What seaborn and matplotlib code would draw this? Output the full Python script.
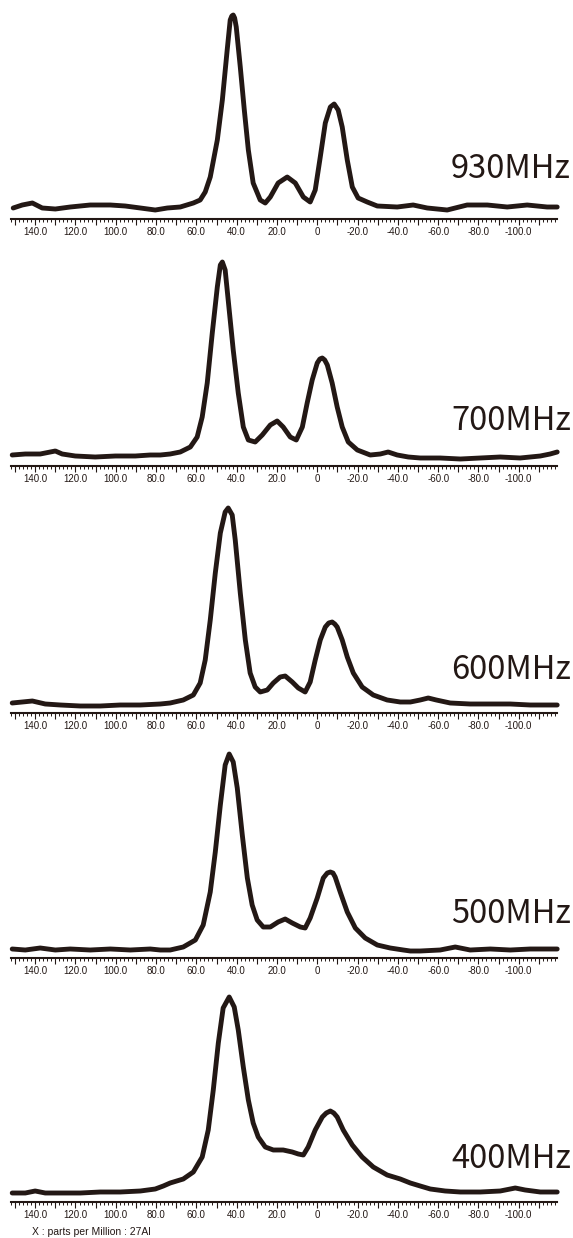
"""
27Al MAS NMR spectra at five field strengths, stacked.
"""

import pandas as pd
import matplotlib
matplotlib.use("Agg")
import matplotlib.pyplot as plt
import seaborn as sns
from matplotlib.ticker import MultipleLocator, FuncFormatter

# --- spectra (ppm, intensity a.u.) ---
FIELDS = ["930MHz", "700MHz", "600MHz", "500MHz", "400MHz"]

PPM_930 = [150.9, 146.4, 141.4, 136.5, 130.0, 122.6, 112.7, 102.7, 95.3, 87.8,
           80.4, 74.4, 68.0, 61.5, 58.1, 55.6, 53.1, 49.6, 47.1, 44.7,
           43.2, 42.4, 41.7, 41.0, 40.2, 38.2, 36.2, 34.2, 31.8, 28.3, 25.8, 23.3,
           19.4, 14.9, 10.9, 6.9, 3.5, 1.0, -1.5, -4.0, -6.5, -8.4,
           -10.4, -12.4, -14.9, -17.4, -20.3, -24.8, -29.8, -39.7, -47.6, -54.6,
           -64.5, -74.4, -84.4, -94.3, -104.2, -114.1, -119.1]
INT_930 = [11, 14, 16, 11, 10, 12, 14, 14, 13, 11,
           9, 11, 12, 16, 19, 27, 42, 79, 119, 169,
           199, 203, 204, 201, 192, 152, 109, 69, 36, 19, 16, 22,
           36, 42, 36, 22, 17, 29, 62, 96, 112, 115,
           109, 92, 59, 32, 21, 17, 13, 12, 14, 11,
           9, 14, 14, 12, 14, 12, 12]

PPM_700 = [151.4, 144.9, 137.5, 130.0, 126.6, 120.1, 110.2, 100.2, 90.3, 82.9,
           77.9, 73.0, 68.0, 63.0, 59.6, 57.1, 54.6, 52.1, 49.6, 48.1,
           47.1, 45.7, 44.2, 41.7, 39.2, 36.7, 34.2, 30.8, 27.3, 23.3,
           19.9, 16.9, 13.4, 10.4, 7.4, 5.0, 2.5, 0.0, -1.3, -2.5, -3.7, -5.0,
           -7.4, -9.9, -12.4, -15.4, -19.9, -26.3, -31.3, -35.2, -39.7, -45.2,
           -51.1, -61.0, -71.0, -80.9, -90.8, -100.7, -110.7, -115.6, -119.1]
INT_700 = [11, 12, 12, 15, 12, 10, 9, 10, 10, 11,
           11, 12, 14, 19, 29, 49, 83, 133, 179, 201,
           204, 196, 166, 116, 73, 39, 26, 24, 31, 41,
           45, 39, 29, 26, 39, 63, 86, 103, 107, 108, 106, 101,
           83, 59, 39, 24, 16, 11, 12, 14, 11, 9,
           8, 8, 7, 8, 9, 8, 10, 12, 14]

PPM_600 = [151.4, 146.4, 141.4, 135.0, 127.5, 117.6, 107.7, 97.8, 87.8, 77.9,
           73.0, 66.5, 61.5, 58.1, 55.6, 53.1, 50.6, 48.1, 45.7, 44.2,
           42.2, 40.7, 38.2, 35.7, 33.3, 30.8, 28.3, 24.8, 21.8, 18.4,
           15.9, 12.4, 9.4, 6.0, 3.5, 1.0, -1.5, -4.0, -5.7, -7.4, -8.7, -9.9,
           -12.4, -14.9, -17.9, -22.3, -27.8, -34.7, -41.2, -46.2, -51.1, -55.1,
           -59.1, -66.0, -75.9, -85.9, -95.8, -105.7, -119.1]
INT_600 = [10, 11, 12, 9, 8, 7, 7, 8, 8, 9,
           10, 13, 18, 30, 53, 93, 140, 180, 201, 205,
           198, 173, 120, 73, 40, 26, 21, 23, 30, 36,
           37, 31, 25, 21, 31, 53, 73, 86, 90, 91, 89, 86,
           73, 56, 40, 26, 18, 13, 11, 11, 13, 15,
           13, 10, 9, 9, 9, 8, 8]

PPM_500 = [151.4, 144.9, 137.5, 130.0, 122.6, 112.7, 102.7, 92.8, 82.9, 77.9,
           73.0, 66.5, 60.5, 56.6, 53.1, 50.6, 48.1, 45.7, 43.7, 41.7,
           39.7, 37.2, 34.7, 32.3, 29.8, 26.8, 23.3, 19.4, 15.9, 12.4,
           8.4, 6.0, 3.5, 0.0, -3.0, -5.0, -6.5, -7.8, -8.9, -11.4, -14.9, -18.9,
           -23.8, -29.8, -36.2, -42.7, -46.2, -51.1, -61.0, -68.5, -75.9, -85.9,
           -95.8, -105.7, -119.1]
INT_500 = [9, 8, 10, 8, 9, 8, 9, 8, 9, 8,
           8, 11, 18, 33, 66, 106, 153, 193, 204, 196,
           170, 123, 80, 53, 38, 31, 31, 36, 39, 35,
           31, 30, 40, 60, 80, 85, 86, 85, 81, 66, 46, 30,
           20, 13, 10, 8, 7, 7, 8, 11, 8, 9,
           8, 9, 9]

PPM_400 = [151.4, 144.9, 140.0, 135.0, 127.5, 117.6, 107.7, 97.8, 87.8, 80.4,
           76.4, 73.0, 66.5, 61.5, 57.1, 54.1, 51.6, 49.1, 46.7, 43.7,
           41.2, 39.2, 36.7, 34.2, 31.8, 29.3, 25.8, 21.8, 16.9, 12.4,
           9.4, 6.9, 4.5, 1.0, -2.5, -4.5, -6.5, -8.2, -9.9, -12.9, -17.4, -22.3,
           -27.8, -34.7, -41.2, -46.2, -51.1, -56.1, -63.5, -71.0, -80.9, -90.8,
           -98.3, -103.2, -110.7, -119.1]
INT_400 = [9, 9, 11, 9, 9, 9, 10, 10, 11, 13,
           16, 19, 23, 30, 45, 72, 112, 159, 194, 205,
           195, 172, 135, 102, 79, 65, 55, 52, 52, 50,
           48, 47, 55, 72, 85, 89, 91, 89, 85, 72, 57, 45,
           35, 27, 23, 19, 16, 13, 11, 10, 10, 11,
           14, 12, 10, 10]

SPECTRA = [(PPM_930, INT_930), (PPM_700, INT_700), (PPM_600, INT_600),
           (PPM_500, INT_500), (PPM_400, INT_400)]

# --- layout (pixels of the 573x1238 canvas) ---
W, H = 573, 1238
AXIS_Y = [219, 466, 713, 958, 1202]      # baseline spine of each panel
LABEL_UP = [50, 45, 43, 44, 43]          # field label centre above spine
AX_LEFT, AX_RIGHT, AX_H = 11, 557, 216
INK = "#231815"

sns.set_style("white")
plt.rcParams["font.family"] = ["Liberation Sans", "DejaVu Sans"]


def tick_label(v, pos):
    v = round(v)
    if v % 20 != 0 or v > 140 or v < -100:
        return ""
    if v == 0:
        return "0"
    return f"{v:.1f}"


fig = plt.figure(figsize=(W / 100, H / 100), dpi=100)

for (ppm, inten), field, ay, up in zip(SPECTRA, FIELDS, AXIS_Y, LABEL_UP):
    ax = fig.add_axes([AX_LEFT / W, 1 - ay / H, (AX_RIGHT - AX_LEFT) / W, AX_H / H])
    df = pd.DataFrame({"ppm": ppm, "intensity": inten})
    sns.lineplot(data=df, x="ppm", y="intensity", ax=ax, color=INK,
                 linewidth=3.5, sort=False, estimator=None)
    for ln in ax.lines:
        ln.set_clip_on(False)
        ln.set_solid_joinstyle("round")
        ln.set_solid_capstyle("round")

    ax.set_xlim(152, -119)
    ax.set_ylim(0, AX_H)
    ax.set_xlabel("")
    ax.set_ylabel("")
    ax.set_yticks([])
    for side in ("top", "left", "right"):
        ax.spines[side].set_visible(False)
    ax.spines["bottom"].set_color(INK)
    ax.spines["bottom"].set_linewidth(1.5)

    ax.xaxis.set_major_locator(MultipleLocator(10))
    ax.xaxis.set_minor_locator(MultipleLocator(2))
    ax.xaxis.set_major_formatter(FuncFormatter(tick_label))
    ax.tick_params(axis="x", which="major", direction="out", length=4,
                   width=0.8, color=INK, pad=1.5, labelsize=7,
                   labelcolor=INK, bottom=True)
    ax.tick_params(axis="x", which="minor", direction="out", length=2.5,
                   width=0.7, color=INK, bottom=True)

    # field label, Japanese gothic look
    ax.text((571 - AX_LEFT) / (AX_RIGHT - AX_LEFT), up, field,
            transform=ax.get_yaxis_transform(), ha="right", va="center",
            fontsize=23.5, color=INK,
            family=["Noto Sans CJK JP", "Liberation Sans", "DejaVu Sans"])

fig.text(32 / W, 1 - 1232 / H, "X : parts per Million : 27Al",
         fontsize=7.5, color=INK, va="center", ha="left")

fig.savefig("out.png", dpi=100)
